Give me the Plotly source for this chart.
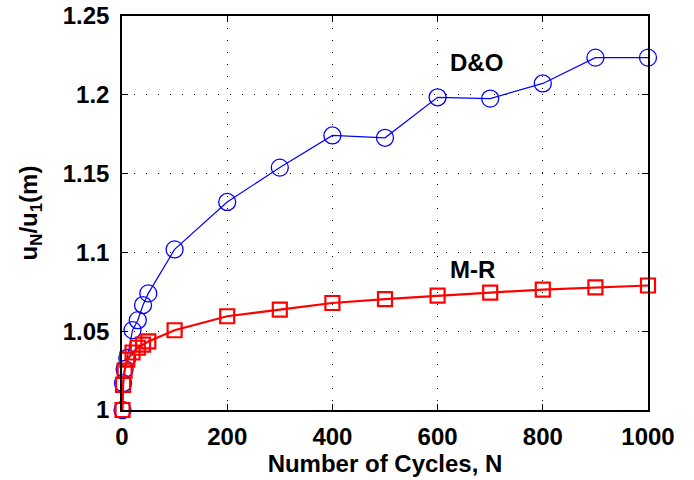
import plotly.graph_objects as go

# Cycle counts
cycles = [1, 2, 5, 10, 20, 30, 40, 50, 100, 200, 300, 400, 500, 600, 700, 800, 900, 1000]

# Normalised displacement u_N/u_1 for each model
do_ratio = [1.000, 1.017, 1.026, 1.033, 1.0507, 1.057, 1.0666, 1.074,
            1.1019, 1.132, 1.1538, 1.1742, 1.1727, 1.1984, 1.1976, 1.2072, 1.2236, 1.2236]
mr_ratio = [1.000, 1.016, 1.025, 1.032, 1.0365, 1.0395, 1.0415, 1.0435,
            1.0506, 1.0595, 1.0637, 1.0679, 1.0704, 1.0726, 1.0745, 1.0764, 1.0778, 1.079]

x_ticks = [0, 200, 400, 600, 800, 1000]
y_ticks = [1.0, 1.05, 1.1, 1.15, 1.2, 1.25]
y_tick_text = ["1", "1.05", "1.1", "1.15", "1.2", "1.25"]

FONT = "Liberation Sans, Arial, sans-serif"

fig = go.Figure()
fig.add_trace(go.Scatter(
    x=cycles, y=do_ratio, mode="lines+markers", name="D&O", cliponaxis=False,
    line=dict(color="#0000ff", width=1.2),
    marker=dict(symbol="circle-open", size=17, color="#0000ff", line=dict(width=1.3)),
))
fig.add_trace(go.Scatter(
    x=cycles, y=mr_ratio, mode="lines+markers", name="M-R", cliponaxis=False,
    line=dict(color="#ff0000", width=2.2),
    marker=dict(symbol="square-open", size=14, color="#ff0000", line=dict(width=2.2)),
))

fig.add_annotation(x=673, y=1.2202, text="<b>D&O</b>", showarrow=False,
                   font=dict(family=FONT, size=24, color="black"))
fig.add_annotation(x=667, y=1.0894, text="<b>M-R</b>", showarrow=False,
                   font=dict(family=FONT, size=24, color="black"))

axis_common = dict(
    showline=True, linecolor="black", linewidth=1.5, mirror="allticks",
    ticks="inside", ticklen=6, tickwidth=1, tickcolor="black",
    showgrid=True, gridcolor="black", gridwidth=1, griddash="1px,11px",
    zeroline=False, automargin=False,
    tickfont=dict(family=FONT, size=24, color="black", weight="bold"),
)

fig.update_xaxes(
    range=[0, 1000], tickvals=x_ticks,
    title=dict(text="<b>Number of Cycles, N</b>", standoff=6,
               font=dict(family=FONT, size=24, color="black")),
    ticklabelstandoff=4,
    **axis_common,
)
fig.update_yaxes(
    range=[1.0, 1.25], tickvals=y_ticks, ticktext=y_tick_text,
    title=dict(text="<b>u<sub>N</sub>/u<sub>1</sub>(m)</b>", standoff=18,
               font=dict(family=FONT, size=24, color="black")),
    ticklabelstandoff=6,
    **axis_common,
)

fig.update_layout(
    width=694, height=480,
    margin=dict(l=122, r=46, t=16, b=70),
    paper_bgcolor="white", plot_bgcolor="white",
    showlegend=False,
)

fig.write_html("out.html")
